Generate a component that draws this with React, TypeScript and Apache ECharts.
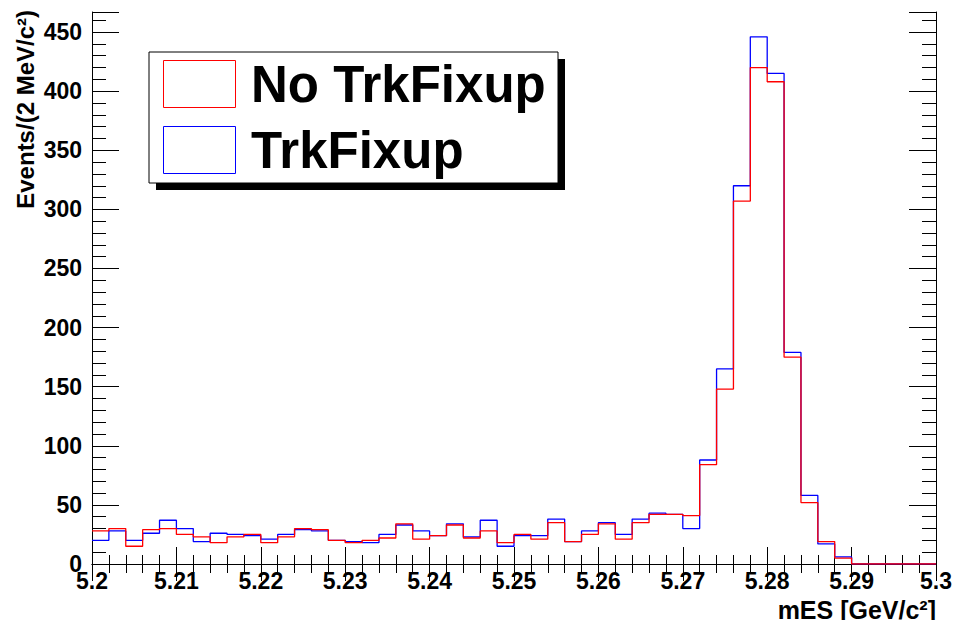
import React, { useEffect, useRef } from "react";
import * as echarts from "echarts";

const X_MIN = 5.2;
const X_MAX = 5.3;
const BIN_WIDTH = 0.002;
const Y_MAX = 467;

const noTrkFixup = [
  28, 30, 15, 29, 30, 25, 23, 18, 23, 25,
  18, 23, 30, 29, 20, 18, 20, 22, 34, 21,
  24, 33, 22, 28, 18, 25, 21, 35, 19, 25,
  34, 21, 35, 42, 42, 41, 84, 148, 307, 420,
  408, 175, 52, 19, 5, 0, 0, 0, 0, 0,
];

const trkFixup = [
  20, 28, 20, 26, 37, 30, 19, 26, 25, 24,
  21, 25, 29, 28, 20, 19, 18, 25, 33, 28,
  24, 34, 23, 37, 15, 24, 24, 38, 19, 28,
  35, 25, 38, 43, 42, 30, 88, 165, 320, 446,
  415, 179, 58, 17, 6, 0, 0, 0, 0, 0,
];

const legendNames = ["No TrkFixup", "TrkFixup"];
const xTitle = "mES [GeV/c²]";
const yTitle = "Events/(2 MeV/c²)";

function toSteps(values: number[]): [number, number][] {
  const pts: [number, number][] = values.map((v, i) => [
    +(X_MIN + i * BIN_WIDTH).toFixed(4),
    v,
  ]);
  pts.push([X_MAX, values[values.length - 1]]);
  return pts;
}

const FONT = "Liberation Sans, Arial, Helvetica, sans-serif";

export default function App() {
  const ref = useRef<HTMLDivElement>(null);
  useEffect(() => {
    if (!ref.current) return;
    const chart = echarts.init(ref.current, null, { renderer: "svg" });
    const axisLine = { show: true, lineStyle: { color: "#000", width: 1 } };
    const option: any = {
      animation: false,
      backgroundColor: "#fff",
      grid: { left: 92, right: 21, top: 12, bottom: 56, containLabel: false },
      xAxis: [
        {
          type: "value",
          position: "bottom",
          min: X_MIN,
          max: X_MAX,
          interval: 0.01,
          axisLine,
          axisTick: { show: true, inside: true, length: 17, lineStyle: { color: "#000" } },
          minorTick: { show: true, splitNumber: 5, length: 9, lineStyle: { color: "#000" } },
          axisLabel: {
            color: "#000",
            fontFamily: FONT,
            fontWeight: "bold",
            fontSize: 23,
            margin: 5,
          },
          splitLine: { show: false },
        },
        {
          type: "value",
          position: "top",
          min: X_MIN,
          max: X_MAX,
          interval: 0.01,
          axisLine,
          axisTick: { show: true, inside: true, length: 17, lineStyle: { color: "#000" } },
          minorTick: { show: true, splitNumber: 5, length: 9, lineStyle: { color: "#000" } },
          axisLabel: { show: false },
          splitLine: { show: false },
        },
      ],
      yAxis: [
        {
          type: "value",
          position: "left",
          min: 0,
          max: Y_MAX,
          interval: 50,
          axisLine,
          axisTick: { show: true, inside: true, length: 27, lineStyle: { color: "#000" } },
          minorTick: { show: true, splitNumber: 5, length: 14, lineStyle: { color: "#000" } },
          axisLabel: {
            color: "#000",
            fontFamily: FONT,
            fontWeight: "bold",
            fontSize: 23,
            margin: 10,
            showMaxLabel: false,
          },
          splitLine: { show: false },
        },
        {
          type: "value",
          position: "right",
          min: 0,
          max: Y_MAX,
          interval: 50,
          axisLine,
          axisTick: { show: true, inside: true, length: 27, lineStyle: { color: "#000" } },
          minorTick: { show: true, splitNumber: 5, length: 14, lineStyle: { color: "#000" } },
          axisLabel: { show: false },
          splitLine: { show: false },
        },
      ],
      series: [
        {
          name: legendNames[1],
          type: "line",
          step: "end",
          xAxisIndex: 0,
          yAxisIndex: 0,
          showSymbol: false,
          symbol: "none",
          lineStyle: { color: "#0000ff", width: 1.3 },
          itemStyle: { color: "#0000ff" },
          data: toSteps(trkFixup),
          z: 2,
        },
        {
          name: legendNames[0],
          type: "line",
          step: "end",
          xAxisIndex: 0,
          yAxisIndex: 0,
          showSymbol: false,
          symbol: "none",
          lineStyle: { color: "#ff0000", width: 1.3 },
          itemStyle: { color: "#ff0000" },
          data: toSteps(noTrkFixup),
          z: 3,
        },
      ],
      graphic: [
        {
          type: "text",
          x: 936,
          y: 610,
          style: {
            text: xTitle,
            fill: "#000",
            font: `bold 25px ${FONT}`,
            align: "right",
            verticalAlign: "middle",
          },
        },
        {
          type: "text",
          x: 25,
          y: 10,
          rotation: Math.PI / 2,
          style: {
            text: yTitle,
            fill: "#000",
            font: `bold 24px ${FONT}`,
            align: "right",
            verticalAlign: "middle",
          },
        },
        {
          type: "rect",
          shape: { x: 156, y: 59, width: 409, height: 131 },
          style: { fill: "#000" },
          z: 10,
        },
        {
          type: "rect",
          shape: { x: 149, y: 52, width: 409, height: 131 },
          style: { fill: "#fff", stroke: "#000", lineWidth: 1 },
          z: 11,
        },
        {
          type: "rect",
          shape: { x: 163.5, y: 60.5, width: 72, height: 47 },
          style: { fill: "#fff", stroke: "#ff0000", lineWidth: 1 },
          z: 12,
        },
        {
          type: "rect",
          shape: { x: 163.5, y: 126.5, width: 72, height: 47 },
          style: { fill: "#fff", stroke: "#0000ff", lineWidth: 1 },
          z: 12,
        },
        {
          type: "text",
          x: 251,
          y: 84,
          style: {
            text: legendNames[0],
            fill: "#000",
            font: `bold 51px ${FONT}`,
            align: "left",
            verticalAlign: "middle",
          },
          z: 12,
        },
        {
          type: "text",
          x: 251,
          y: 150,
          style: {
            text: legendNames[1],
            fill: "#000",
            font: `bold 51px ${FONT}`,
            align: "left",
            verticalAlign: "middle",
          },
          z: 12,
        },
      ],
    };
    chart.setOption(option);
    return () => chart.dispose();
  }, []);
  return (
    <div
      ref={ref}
      style={{ position: "fixed", left: 0, top: 0, width: 957, height: 620, background: "#fff" }}
    />
  );
}
